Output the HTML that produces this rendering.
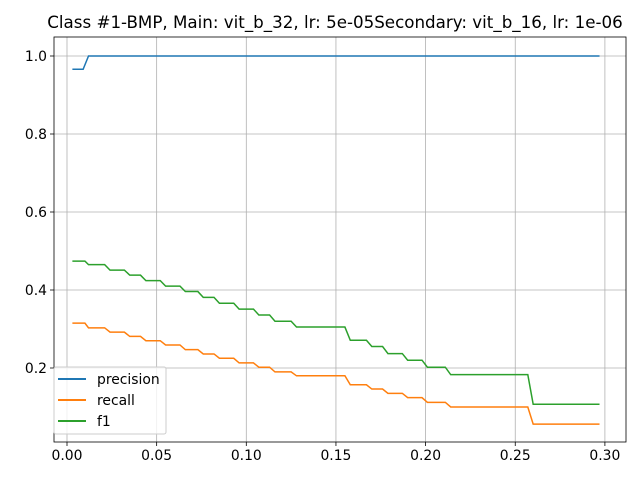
<!DOCTYPE html>
<html><head><meta charset="utf-8"><style>
body{margin:0;background:#fff;}
svg text{font-family:"DejaVu Sans","Liberation Sans",sans-serif;fill:#000;}
</style></head><body>
<svg id="chart" width="640" height="480" xmlns="http://www.w3.org/2000/svg">
<rect width="640" height="480" fill="#fff"/>
<text x="335" y="28" font-size="16.7" text-anchor="middle">Class #1-BMP, Main: vit_b_32, lr: 5e-05Secondary: vit_b_16, lr: 1e-06</text>
<g id="grid"></g><g id="series"></g><g id="axes"></g>
<g>
<rect x="54" y="367" width="112" height="67" rx="2" fill="#fff" fill-opacity="0.8" stroke="#ccc"/>
<line x1="58" y1="379" x2="86" y2="379" stroke="#1f77b4" stroke-width="2"/>
<text x="97" y="384" font-size="13.9">precision</text>
<line x1="58" y1="400" x2="86" y2="400" stroke="#ff7f0e" stroke-width="2"/>
<text x="97" y="405" font-size="13.9">recall</text>
<line x1="58" y1="421" x2="86" y2="421" stroke="#2ca02c" stroke-width="2"/>
<text x="97" y="426" font-size="13.9">f1</text>
</g>
</svg>
<script>
const xTicks=[0.00,0.05,0.10,0.15,0.20,0.25,0.30];
const xTickLabels=["0.00","0.05","0.10","0.15","0.20","0.25","0.30"];
const yTicks=[0.2,0.4,0.6,0.8,1.0];
const yTickLabels=["0.2","0.4","0.6","0.8","1.0"];
const stepX=[0.003,0.010,0.012,0.021,0.024,0.032,0.035,0.041,0.044,0.052,0.055,0.063,0.066,0.073,0.076,0.082,0.085,0.093,0.096,0.104,0.107,0.113,0.116,0.125,0.128,0.155,0.158,0.167,0.170,0.176,0.179,0.187,0.190,0.198,0.201,0.211,0.214,0.257,0.260,0.297];
const f1Levels=[0.474,0.465,0.451,0.438,0.424,0.41,0.396,0.381,0.366,0.351,0.336,0.32,0.305,0.271,0.255,0.237,0.22,0.202,0.183,0.107];
const recallLevels=[0.315,0.303,0.292,0.281,0.27,0.259,0.247,0.236,0.225,0.213,0.202,0.19,0.18,0.157,0.146,0.135,0.124,0.112,0.1,0.056];
const precisionX=[0.003,0.009,0.012,0.297];
const precisionY=[0.966,0.966,1.0,1.0];
const L=54,R=626,T=37,B=442;
const X=v=>67+v*1793;
const Y=v=>446-v*390;
const NS="http://www.w3.org/2000/svg";
const mk=(t,a,p)=>{const e=document.createElementNS(NS,t);for(const k in a)e.setAttribute(k,a[k]);p.appendChild(e);return e;};
const grid=document.getElementById('grid'),axes=document.getElementById('axes'),ser=document.getElementById('series');
xTicks.forEach((v,i)=>{
 const g=mk('line',{x1:X(v),x2:X(v),y1:T,y2:B,stroke:'#b0b0b0','stroke-width':0.8},grid);
 
 
 mk('line',{x1:X(v),x2:X(v),y1:B,y2:B+4,stroke:'#000','stroke-width':0.8},axes);
 const t=mk('text',{x:X(v),y:B+18,'font-size':13.9,'text-anchor':'middle'},axes);t.textContent=xTickLabels[i];
 
 
});
yTicks.forEach((v,i)=>{
 const g=mk('line',{x1:L,x2:R,y1:Y(v),y2:Y(v),stroke:'#b0b0b0','stroke-width':0.8},grid);
 
 
 mk('line',{x1:L-4,x2:L,y1:Y(v),y2:Y(v),stroke:'#000','stroke-width':0.8},axes);
 const t=mk('text',{x:L-7,y:Y(v)+5,'font-size':13.9,'text-anchor':'end'},axes);t.textContent=yTickLabels[i];
 
 
});
const fr=mk('rect',{x:L,y:T,width:R-L,height:B-T,fill:'none',stroke:'#000','stroke-width':0.8},axes);


function line(xs,ys,c,name){
 const p=mk('polyline',{points:xs.map((x,i)=>X(x)+','+Y(ys[i])).join(' '),fill:'none',stroke:c,'stroke-width':1.5},ser);
 
 
}
const stepY=l=>stepX.map((_,i)=>l[Math.floor(i/2)]);
line(precisionX,precisionY,'#1f77b4','precision-line');
line(stepX,stepY(recallLevels),'#ff7f0e','recall-line');
line(stepX,stepY(f1Levels),'#2ca02c','f1-line');
</script>
</body></html>
